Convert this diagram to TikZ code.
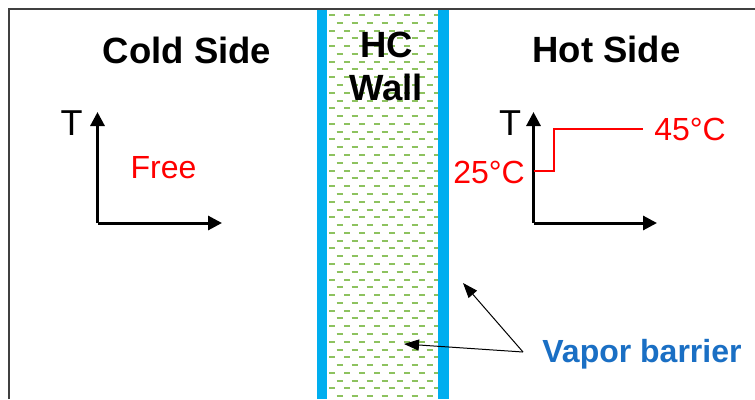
\documentclass[tikz,border=0pt]{standalone}
\usepackage{fontspec}
\setmainfont{Liberation Sans}
\usetikzlibrary{arrows.meta}
\definecolor{framegray}{HTML}{404040}
\definecolor{wallblue}{HTML}{00AEEF}
\definecolor{hatchgreen}{HTML}{8DC25F}
\definecolor{vbblue}{HTML}{1A6FC4}
\definecolor{tred}{HTML}{FF0000}
\tikzset{
  title/.style={font=\fontsize{36.5}{40}\selectfont\bfseries, anchor=base, inner sep=0pt},
  axlabel/.style={font=\fontsize{36}{40}\selectfont, anchor=base, inner sep=0pt},
  redlabel/.style={font=\fontsize{32}{36}\selectfont, text=tred, anchor=base, inner sep=0pt},
  vblabel/.style={font=\fontsize{32}{36}\selectfont\bfseries, text=vbblue, anchor=base, inner sep=0pt},
  axis/.style={line width=3pt, -{Triangle[length=14pt,width=14pt]}},
  pointer/.style={line width=1pt, -{Triangle[length=15pt,width=11pt]}},
  hatch/.style={hatchgreen, line width=2pt},
  wallbar/.style={fill=wallblue, draw=none},
}
\begin{document}
\begin{tikzpicture}[x=1pt,y=-1pt]
\useasboundingbox (0,0) rectangle (755,399);
\fill[white] (0,0) rectangle (755,399);
% hatch inside wall
\begin{scope}
\clip (327,11) rectangle (438,399);
\foreach \i in {0,...,50}{
  \pgfmathsetmacro{\yy}{15+\i*7.78}
  \pgfmathsetmacro{\off}{mod(\i,2)*7.5}
  \foreach \k in {0,...,8}{
    \pgfmathsetmacro{\xx}{329+\off+\k*15}
    \draw[hatch] (\xx,\yy) -- ++(6,0);
  }
}
\end{scope}
% wall bars
\fill[wallbar] (317,9) rectangle (327,399);
\fill[wallbar] (438,9) rectangle (449,399);
% frame
\draw[framegray, line width=2pt] (9,399) -- (9,9) -- (755,9);
% titles
\node[title] (cold) at (187,63) {Cold Side};
\node[title] (hc) at (387,57) {HC};
\node[title] (wall) at (386,100) {Wall};
\node[title] (hot) at (606.5,62) {Hot Side};
% cold axes
\coordinate (co) at (97.5,223);
\coordinate (cy) at (97.5,112);
\coordinate (cx) at (222,223);
\draw[axis] (co) -- (cy);
\draw[axis] (co) -- (cx);
\node[axlabel] (tc) at (71.5,135) {T};
\node[redlabel] (free) at (163.5,178) {Free};
% hot axes
\coordinate (ho) at (533.5,223);
\coordinate (hy) at (533.5,112);
\coordinate (hx) at (657,223);
\draw[axis] (ho) -- (hy);
\draw[axis] (ho) -- (hx);
\node[axlabel] (th) at (510,135) {T};
\coordinate (r1) at (533.5,171);
\coordinate (r2) at (554,171);
\coordinate (r3) at (554,129);
\coordinate (r4) at (643,129);
\draw[tred, line width=2pt] (r1) -- (r2) -- (r3) -- (r4);
\node[redlabel] (t25) at (489,183) {25°C};
\node[redlabel] (t45) at (690,140) {45°C};
% vapor barrier
\node[vblabel] (vb) at (642,362) {Vapor barrier};
\coordinate (vbs) at (523,352);
\coordinate (tipa) at (463,283);
\coordinate (tipb) at (404,344);
\draw[pointer] (vbs) -- (tipa);
\draw[pointer] (vbs) -- (tipb);
\end{tikzpicture}
\end{document}
